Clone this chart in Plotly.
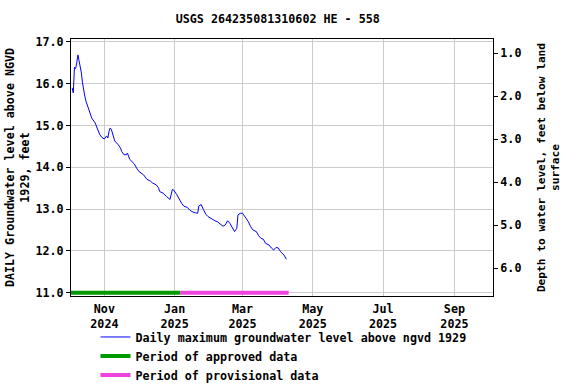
import plotly.graph_objects as go

dates = [
    "2024-10-04", "2024-10-05", "2024-10-06", "2024-10-07", "2024-10-08", "2024-10-09",
    "2024-10-10", "2024-10-11", "2024-10-12", "2024-10-13", "2024-10-14", "2024-10-15",
    "2024-10-16", "2024-10-18", "2024-10-19", "2024-10-21", "2024-10-24", "2024-10-26",
    "2024-10-28", "2024-10-30", "2024-11-01", "2024-11-03", "2024-11-04", "2024-11-05",
    "2024-11-06", "2024-11-07", "2024-11-09", "2024-11-10", "2024-11-13", "2024-11-15",
    "2024-11-16", "2024-11-18", "2024-11-20", "2024-11-21", "2024-11-23", "2024-11-25",
    "2024-11-27", "2024-11-29", "2024-12-01", "2024-12-05", "2024-12-08", "2024-12-11",
    "2024-12-13", "2024-12-16", "2024-12-18", "2024-12-19", "2024-12-22", "2024-12-25",
    "2024-12-28", "2024-12-30", "2024-12-31", "2025-01-03", "2025-01-05", "2025-01-07",
    "2025-01-09", "2025-01-12", "2025-01-14", "2025-01-16", "2025-01-19", "2025-01-21",
    "2025-01-22", "2025-01-24", "2025-01-26", "2025-01-28", "2025-01-30", "2025-02-02",
    "2025-02-05", "2025-02-07", "2025-02-10", "2025-02-12", "2025-02-14", "2025-02-16",
    "2025-02-18", "2025-02-20", "2025-02-22", "2025-02-24", "2025-02-25", "2025-02-27",
    "2025-03-01", "2025-03-02", "2025-03-04", "2025-03-06", "2025-03-08", "2025-03-10",
    "2025-03-13", "2025-03-15", "2025-03-17", "2025-03-19", "2025-03-21", "2025-03-24",
    "2025-03-26", "2025-03-28", "2025-03-30", "2025-04-01", "2025-04-03", "2025-04-06",
    "2025-04-08",
]
levels = [
    15.90, 15.78, 16.39, 16.36, 16.50, 16.69,
    16.55, 16.42, 16.26, 16.02, 15.82, 15.70,
    15.58, 15.42, 15.30, 15.18, 15.06, 14.94,
    14.78, 14.71, 14.68, 14.75, 14.70, 14.86,
    14.94, 14.91, 14.74, 14.63, 14.54, 14.46,
    14.38, 14.30, 14.30, 14.34, 14.19, 14.14,
    14.08, 13.98, 13.90, 13.82, 13.71, 13.67,
    13.62, 13.58, 13.51, 13.42, 13.38, 13.30,
    13.23, 13.47, 13.46, 13.34, 13.22, 13.14,
    13.07, 13.04, 12.98, 12.94, 12.91, 12.90,
    13.07, 13.11, 12.99, 12.88, 12.82, 12.76,
    12.72, 12.70, 12.62, 12.59, 12.62, 12.72,
    12.66, 12.56, 12.46, 12.54, 12.86, 12.90,
    12.90, 12.86, 12.78, 12.70, 12.58, 12.50,
    12.46, 12.36, 12.30, 12.28, 12.18, 12.14,
    12.07, 12.02, 12.08, 12.07, 11.98, 11.90,
    11.80,
]

approved_period = ["2024-10-03", "2025-01-06"]
provisional_period = ["2025-01-06", "2025-04-10"]
period_level = 11.0

x_range = ["2024-10-03", "2025-10-04 12:00"]
left_range = [10.92, 17.07]
right_range = [6.65, 0.674]

FONT = "DejaVu Sans Mono"
fs = 11.7

fig = go.Figure()
fig.add_trace(go.Scatter(
    x=dates, y=levels, mode="lines",
    line=dict(color="#0000ff", width=1),
    name="Daily maximum groundwater level above ngvd 1929",
))
fig.add_trace(go.Scatter(
    x=approved_period, y=[period_level, period_level], mode="lines",
    line=dict(color="#009900", width=4),
    name="Period of approved data",
))
fig.add_trace(go.Scatter(
    x=provisional_period, y=[period_level, period_level], mode="lines",
    line=dict(color="#ee44dd", width=4),
    name="Period of provisional data",
))
# empty trace so the right-hand depth axis is drawn
fig.add_trace(go.Scatter(
    x=[dates[0]], y=[None], yaxis="y2", mode="lines",
    showlegend=False, hoverinfo="skip",
))

fig.update_layout(
    width=576, height=384,
    margin=dict(l=71, r=83, t=39, b=88, autoexpand=False),
    paper_bgcolor="white", plot_bgcolor="white",
    font=dict(family=FONT, size=fs, color="black", weight="bold"),
    title=dict(text="USGS 264235081310602 HE - 558", x=0.49, xanchor="center",
               xref="paper", y=0.95, yanchor="middle", yref="container",
               font=dict(family=FONT, size=fs, weight="bold")),
    showlegend=True,
    legend=dict(x=0.058, y=-0.103, xanchor="left", yanchor="top",
                bgcolor="rgba(0,0,0,0)", tracegroupgap=0, itemwidth=30,
                font=dict(family=FONT, size=fs, weight="bold")),
    xaxis=dict(
        range=x_range, type="date", automargin=False,
        tick0="2024-11-01", dtick="M2", tickformat="%b<br>%Y",
        ticklabelstandoff=2,
        showgrid=True, gridcolor="#cccccc", gridwidth=1,
        showline=True, linecolor="black", linewidth=1, mirror=True,
        ticks="", zeroline=False,
    ),
    yaxis=dict(
        range=left_range, dtick=1, tick0=11, tickformat=".1f", automargin=False,
        showgrid=True, gridcolor="#cccccc", gridwidth=1,
        showline=True, linecolor="black", linewidth=1, mirror=True,
        ticks="outside", ticklen=4, tickcolor="black", zeroline=False,
        title=dict(text="DAILY Groundwater level above NGVD<br>1929, feet", standoff=3,
                   font=dict(family=FONT, size=11.7, weight="bold")),
    ),
    yaxis2=dict(
        range=right_range, overlaying="y", side="right", anchor="x", automargin=False,
        dtick=1, tick0=1, tickformat=".1f",
        showgrid=False, showline=True, linecolor="black", linewidth=1,
        ticks="outside", ticklen=4, tickcolor="black", zeroline=False,
        title=dict(text="Depth to water level, feet below land<br>surface", standoff=16,
                   font=dict(family=FONT, size=11.2, weight="bold")),
    ),
)

fig.write_html("out.html", config={"displayModeBar": False},
               post_script="document.body.style.margin='0';")
